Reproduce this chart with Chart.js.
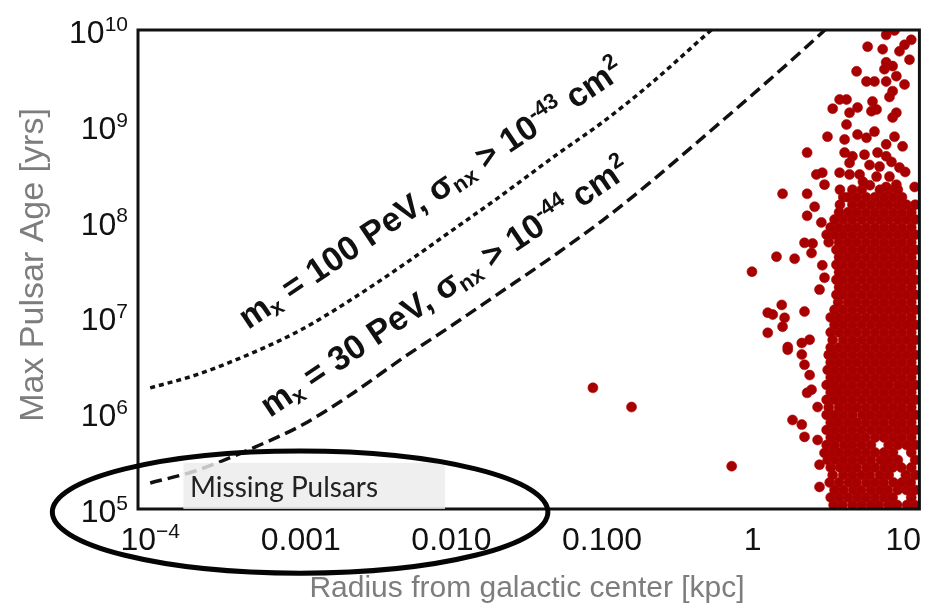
<!DOCTYPE html>
<html>
<head>
<meta charset="utf-8">
<script src="https://cdn.jsdelivr.net/npm/chart.js@4.4.1/dist/chart.umd.min.js"></script>
<style>
    body { margin: 0; background: #ffffff; }
    #wrap { width: 925px; height: 610px; }
</style>
</head>
<body>
<div id="wrap"><canvas id="graph" width="925" height="610"></canvas></div>
<script>
/**********/
// sensitivity curves: radius grid [kpc] and max pulsar age [yrs]
const curveRadius = [1e-4, 2e-4, 5e-4, 1e-3, 2e-3, 5e-3, 0.01, 0.02, 0.05, 0.1, 0.2, 0.5, 1, 2, 5];
const age100PeV = [1.84e6, 2.5e6, 4.4e6, 7.4e6, 1.42e7, 3.7e7, 8.0e7, 1.73e8, 5.0e8, 1.08e9, 2.57e9, 9.2e9, 2.4e10];
const age30PeV = [1.87e5, 2.5e5, 4.45e5, 7.4e5, 1.45e6, 3.97e6, 8.17e6, 1.72e7, 4.62e7, 1.02e8, 2.43e8, 8.28e8, 2.12e9, 5.55e9, 2.08e10];

// axis ticks
const xTicks = [1e-4, 1e-3, 1e-2, 1e-1, 1, 10];
const xTickLabels = [["10", "\u22124"], ["0.001"], ["0.010"], ["0.100"], ["1"], ["10"]];
const yTicks = [1e5, 1e6, 1e7, 1e8, 1e9, 1e10];
const yTickLabels = [["10", "5"], ["10", "6"], ["10", "7"], ["10", "8"], ["10", "9"], ["10", "10"]];

// pulsars far from the main population [kpc, yrs]
const strayPulsars = [
    [0.087, 1.84e6], [0.157, 1.16e6], [0.726, 2.8e5], [0.99, 3.0e7], [1.44, 4.3e7],
    [1.9, 4.1e7], [1.58, 1.95e8], [2.3, 1.95e8], [2.58, 1.43e8], [2.3, 1.15e8], [2.86, 9.8e7],
    [2.21, 6.0e7], [2.5, 5.9e7], [2.46, 4.7e7], [2.9, 3.5e7], [3.0, 2.6e7], [2.78, 1.95e7],
    [1.26, 1.12e7], [1.36, 1.07e7], [1.56, 1.35e7], [1.63, 9.9e6], [1.58, 8.0e6], [1.26, 6.9e6],
    [2.21, 1.15e7], [2.12, 5.4e6], [2.39, 5.85e6], [1.71, 4.9e6], [1.71, 4.6e6], [2.12, 4.1e6],
    [2.21, 3.2e6], [2.39, 2.5e6], [2.46, 1.76e6], [2.3, 1.63e6], [2.7, 1.16e6], [1.84, 8.5e5],
    [2.12, 7.6e5], [2.21, 5.66e5], [2.7, 5.25e5], [3.0, 3.85e5], [2.78, 2.9e5], [2.78, 1.7e5]
];

// old pulsars above ~2e8 yrs [kpc, yrs]
const upperPulsars = [
    [5.8, 6.7e9], [7.7, 8.9e9], [8.75, 9.9e9], [7.3, 6.3e9], [9.44, 6.0e9], [10.2, 7.0e9],
    [11.3, 7.9e9], [11.0, 4.9e9], [7.7, 4.6e9], [8.5, 4.2e9], [7.5, 3.9e9], [9.0, 3.3e9],
    [4.9, 3.7e9], [5.7, 2.9e9], [6.44, 2.9e9], [7.7, 2.9e9], [10.2, 2.7e9], [8.5, 2.3e9],
    [8.1, 2.0e9], [3.78, 1.88e9], [4.2, 1.88e9], [6.25, 1.79e9], [3.4, 1.51e9], [4.4, 1.37e9],
    [4.97, 1.55e9], [6.65, 1.48e9], [6.15, 1.42e9], [8.5, 1.22e9], [9.0, 1.37e9], [4.2, 1.03e9],
    [3.14, 7.7e8], [4.08, 7.2e8], [4.97, 8.1e8], [5.7, 7.5e8], [6.44, 8.7e8], [8.75, 7.7e8],
    [9.9, 6.1e8], [7.7, 6.4e8], [2.3, 5.25e8], [4.08, 5.25e8], [4.6, 4.8e8], [5.53, 5.0e8],
    [6.75, 5.25e8], [7.7, 4.8e8], [4.4, 4.1e8], [5.97, 3.9e8], [6.96, 3.75e8], [8.35, 4.2e8],
    [9.44, 3.66e8], [2.65, 3.1e8], [2.9, 3.24e8], [3.78, 3.24e8], [4.4, 3.1e8], [5.13, 3.1e8],
    [6.65, 2.95e8], [8.1, 2.95e8], [11.9, 2.3e8], [9.0, 2.43e8], [7.7, 2.3e8], [3.0, 2.43e8],
    [5.4, 2.6e8], [6.0, 2.4e8], [10.3, 3.3e8]
];

// main population, one row per age [yrs] with radii [kpc]
const pulsarRows = [
    [1.10e5, [3.45, 3.95, 4.6, 5.3, 6.1, 6.9, 8.0, 9.1, 10.6, 11.9]],
    [1.32e5, [3.3, 3.75, 4.3, 4.95, 5.65, 6.5, 7.5, 8.5, 11.3]],
    [1.58e5, [3.5, 4.0, 4.65, 5.25, 6.1, 7.0, 7.9, 9.2, 10.5, 12.0]],
    [1.89e5, [3.25, 3.75, 4.35, 4.9, 5.7, 6.5, 7.4, 8.6, 9.8, 11.2]],
    [2.26e5, [3.4, 4.0, 4.6, 5.3, 6.0, 7.0, 8.0, 10.4, 12.0]],
    [2.71e5, [3.3, 3.8, 4.3, 4.9, 5.7, 6.5, 7.5, 8.5, 9.7, 11.3]],
    [3.25e5, [3.15, 3.5, 4.0, 4.6, 5.3, 6.1, 7.1, 8.0, 9.2, 12.0]],
    [3.89e5, [3.3, 3.75, 4.3, 4.9, 5.65, 6.5, 7.45, 8.55, 11.3]],
    [4.66e5, [3.1, 3.5, 4.05, 4.6, 5.3, 6.1, 8.0, 9.2, 10.5, 12.0]],
    [5.58e5, [3.3, 3.75, 4.3, 4.9, 5.6, 6.5, 7.45, 8.55, 9.8, 11.3]],
    [6.69e5, [3.1, 3.5, 4.0, 4.6, 5.3, 6.1, 7.0, 8.0, 9.2, 10.5, 12.0]],
    [8.0e5, [3.3, 3.75, 4.3, 4.9, 5.65, 6.5, 7.45, 8.6, 9.8, 11.3]],
    [9.6e5, [3.1, 3.5, 4.0, 4.6, 5.35, 6.1, 7.0, 8.0, 9.2, 10.5, 12.0]],
    [1.15e6, [3.2, 3.75, 4.3, 4.9, 5.65, 6.5, 7.45, 8.55, 9.8, 11.3]],
    [1.38e6, [3.1, 3.5, 4.0, 4.6, 5.3, 6.1, 7.0, 8.0, 9.2, 10.5, 12.0]],
    [1.65e6, [3.3, 3.75, 4.3, 4.9, 5.65, 6.5, 7.45, 8.55, 9.8, 11.3]],
    [1.97e6, [3.1, 3.5, 4.0, 4.6, 5.3, 6.1, 7.0, 8.0, 9.25, 10.5, 12.0]],
    [2.36e6, [3.3, 3.75, 4.3, 4.9, 5.65, 6.5, 7.45, 8.55, 9.8, 11.3]],
    [2.83e6, [3.15, 3.5, 4.0, 4.6, 5.3, 6.1, 7.0, 8.0, 9.2, 10.5, 12.0]],
    [3.39e6, [3.3, 3.75, 4.3, 4.9, 5.65, 6.5, 7.45, 8.55, 9.8, 11.3]],
    [4.06e6, [3.2, 3.5, 4.0, 4.6, 5.3, 6.1, 7.0, 8.0, 9.2, 10.5, 12.0]],
    [4.86e6, [3.3, 3.75, 4.3, 4.9, 5.65, 6.5, 7.45, 8.55, 9.8, 11.3]],
    [5.82e6, [3.4, 4.0, 4.6, 5.3, 6.1, 7.0, 8.0, 9.2, 10.5, 12.0]],
    [6.98e6, [3.3, 3.75, 4.3, 4.9, 5.65, 6.5, 7.45, 8.55, 9.8, 11.3]],
    [8.36e6, [3.5, 4.0, 4.6, 5.3, 6.1, 7.0, 8.0, 9.2, 10.5, 12.0]],
    [1.0e7, [3.3, 3.75, 4.3, 4.9, 5.65, 6.5, 7.45, 8.55, 9.8, 11.3]],
    [1.2e7, [3.5, 4.0, 4.6, 5.3, 6.1, 7.0, 8.0, 9.2, 10.5, 12.0]],
    [1.44e7, [3.7, 4.3, 4.9, 5.65, 6.5, 7.45, 8.55, 9.8, 11.3]],
    [1.72e7, [3.6, 4.0, 4.6, 5.3, 6.1, 7.0, 8.0, 9.2, 10.5, 12.0]],
    [2.06e7, [3.75, 4.3, 4.9, 5.65, 6.5, 7.45, 8.55, 9.8, 11.3]],
    [2.47e7, [3.6, 4.0, 4.6, 5.3, 6.1, 7.0, 8.0, 9.2, 10.5, 12.0]],
    [2.96e7, [3.75, 4.3, 4.9, 5.65, 6.5, 7.45, 8.55, 9.8, 11.3]],
    [3.54e7, [3.6, 4.0, 4.6, 5.3, 6.1, 7.0, 8.0, 9.2, 10.5, 12.0]],
    [4.24e7, [3.75, 4.3, 4.9, 5.65, 6.5, 7.45, 8.55, 9.8, 11.3]],
    [5.08e7, [3.6, 4.0, 4.6, 5.3, 6.1, 7.0, 8.0, 9.2, 10.5, 12.0]],
    [6.09e7, [3.2, 3.75, 4.3, 4.9, 5.65, 6.5, 7.45, 8.55, 9.8, 11.3]],
    [7.3e7, [3.1, 3.5, 4.0, 4.6, 5.3, 6.1, 7.0, 8.0, 9.2, 10.5, 12.0]],
    [8.7e7, [3.3, 3.75, 4.3, 4.9, 5.65, 6.5, 7.45, 8.55, 9.8, 11.3]],
    [1.05e8, [3.5, 4.0, 4.6, 5.3, 6.1, 7.0, 8.0, 9.2, 10.5, 12.0]],
    [1.25e8, [3.75, 4.3, 4.9, 5.65, 6.5, 7.45, 8.55, 9.8, 11.3]],
    [1.5e8, [3.8, 4.6, 5.3, 6.1, 7.0, 8.0, 9.2, 10.5, 12.0]],
    [1.8e8, [4.0, 4.3, 4.9, 5.65, 6.5, 7.45, 8.55, 9.8]],
    [2.15e8, [3.8, 4.6, 5.3, 7.0, 8.0, 9.2]]
];

const FONT = '"Liberation Sans", Arial, sans-serif';

/**********/
function buildPulsars()
{
    let points = [];

    for(let i=0; i<pulsarRows.length; i++)
    {
        let age = pulsarRows[i][0];
        let radii = pulsarRows[i][1];
        for(let j=0; j<radii.length; j++) { points.push({ x: radii[j], y: age }); }
    }

    let extra = strayPulsars.concat(upperPulsars);
    for(let i=0; i<extra.length; i++) { points.push({ x: extra[i][0], y: extra[i][1] }); }

    return points;
}

/**********/
function buildCurve(ages)
{
    let points = [];
    for(let i=0; i<ages.length; i++) { points.push({ x: curveRadius[i], y: ages[i] }); }
    return points;
}

/**********/
// text with sub/superscripts, parts are [text, shift] with shift 1 = sup, -1 = sub
function richWidth(c, parts, size, weight)
{
    let w = 0;
    for(let i=0; i<parts.length; i++)
    {
        let fs = parts[i][1] === 0 ? size : Math.round(size * 0.66);
        c.font = weight + " " + fs + "px " + FONT;
        w += c.measureText(parts[i][0]).width;
    }
    return w;
}

function drawRich(c, parts, x, y, size, weight)
{
    let cx = x;
    for(let i=0; i<parts.length; i++)
    {
        let shift = parts[i][1];
        let fs = shift === 0 ? size : Math.round(size * 0.66);
        c.font = weight + " " + fs + "px " + FONT;
        let dy = shift === 1 ? -size * 0.38 : (shift === -1 ? size * 0.14 : 0);
        c.fillText(parts[i][0], cx, y + dy);
        cx += c.measureText(parts[i][0]).width;
    }
}

/**********/
const decorPlugin =
{
    id: "decor",

    afterDatasetsDraw(chart)
    {
        const c = chart.ctx;
        const a = chart.chartArea;
        const xs = chart.scales.x;
        const ys = chart.scales.y;

        c.save();

        //frame
        c.strokeStyle = "#111";
        c.lineWidth = 3;
        c.strokeRect(a.left, a.top, a.right - a.left, a.bottom - a.top);

        //curve labels
        c.fillStyle = "#111";
        c.textBaseline = "alphabetic";
        let labels = [
            { x: 4.47e-4, y: 7.4e6, parts: [["m",0],["x",-1],[" = 100 PeV, \u03C3",0],["nx",-1],[" > 10",0],["-43",1],[" cm",0],["2",1]] },
            { x: 6.25e-4, y: 8.9e5, parts: [["m",0],["x",-1],[" = 30 PeV, \u03C3",0],["nx",-1],[" > 10",0],["-44",1],[" cm",0],["2",1]] }
        ];
        for(let i=0; i<labels.length; i++)
        {
            c.save();
            c.translate(xs.getPixelForValue(labels[i].x), ys.getPixelForValue(labels[i].y));
            c.rotate(-34 * Math.PI / 180);
            drawRich(c, labels[i].parts, 0, 0, 34, "bold");
            c.restore();
        }

        //missing pulsars box
        let bx0 = xs.getPixelForValue(1.66e-4);
        let bx1 = xs.getPixelForValue(9.06e-3);
        let by0 = ys.getPixelForValue(3.03e5);
        c.fillStyle = "rgba(236,236,236,0.82)";
        c.fillRect(bx0, by0, bx1 - bx0, a.bottom - by0);

        c.fillStyle = "#222";
        c.font = "28px Lato, \"Open Sans\", sans-serif";
        c.fillText("Missing Pulsars", xs.getPixelForValue(1.84e-4), ys.getPixelForValue(1.33e5));

        c.restore();
    },

    afterDraw(chart)
    {
        const c = chart.ctx;
        const a = chart.chartArea;
        const xs = chart.scales.x;
        const ys = chart.scales.y;

        c.save();
        c.fillStyle = "#111";
        c.textBaseline = "alphabetic";

        //y tick labels, right aligned
        for(let i=0; i<yTicks.length; i++)
        {
            let py = ys.getPixelForValue(yTicks[i]);
            let parts = [[yTickLabels[i][0], 0], [yTickLabels[i][1], 1]];
            let w = richWidth(c, parts, 32, "normal");
            drawRich(c, parts, a.left - 10 - w, py + 13, 32, "normal");
        }

        //x tick labels, centred
        for(let i=0; i<xTicks.length; i++)
        {
            let px = xs.getPixelForValue(xTicks[i]);
            let parts = [[xTickLabels[i][0], 0]];
            if(xTickLabels[i].length > 1) { parts.push([xTickLabels[i][1], 1]); }
            let w = richWidth(c, parts, 32, "normal");
            drawRich(c, parts, px - w / 2, a.bottom + 41, 32, "normal");
        }

        //axis titles
        c.fillStyle = "#7d7d7d";
        c.font = "30px " + FONT;
        c.textAlign = "center";
        c.fillText("Radius from galactic center [kpc]", 527, 597);

        c.font = "34px " + FONT;
        c.save();
        c.translate(43, 265);
        c.rotate(-Math.PI / 2);
        c.fillText("Max Pulsar Age [yrs]", 0, 0);
        c.restore();

        //missing pulsars ellipse
        let ex0 = xs.getPixelForValue(2.24e-5);
        let ex1 = xs.getPixelForValue(0.0437);
        let ecy = ys.getPixelForValue(9.3e4);
        let etop = ys.getPixelForValue(4.04e5);
        c.strokeStyle = "#050505";
        c.lineWidth = 5;
        c.beginPath();
        c.ellipse((ex0 + ex1) / 2, ecy, (ex1 - ex0) / 2, ecy - etop, 0, 0, 2 * Math.PI);
        c.stroke();

        c.restore();
    }
};

/**********/
function displayGraph()
{
    const ctx = document.getElementById("graph");

    window.graph = new Chart(ctx,
    {
        type: "scatter",

        data:
        {
            datasets:
            [
                {
                    label: "m = 100 PeV",
                    data: buildCurve(age100PeV),
                    showLine: true,
                    pointRadius: 0,
                    borderColor: "#111",
                    borderWidth: 3.5,
                    borderDash: [5, 4],
                    cubicInterpolationMode: "monotone"
                },
                {
                    label: "m = 30 PeV",
                    data: buildCurve(age30PeV),
                    showLine: true,
                    pointRadius: 0,
                    borderColor: "#111",
                    borderWidth: 3.5,
                    borderDash: [12, 6],
                    cubicInterpolationMode: "monotone"
                },
                {
                    label: "Pulsars",
                    data: buildPulsars(),
                    pointRadius: 5,
                    pointHoverRadius: 5,
                    pointBackgroundColor: "#a60000",
                    pointBorderColor: "#b40808",
                    pointBorderWidth: 0.6
                }
            ]
        },

        options:
        {
            responsive: false,
            animation: false,
            events: [],
            layout: { padding: { left: 0, top: 30, right: 5, bottom: 0 } },
            plugins: { legend: { display: false }, tooltip: { enabled: false } },
            scales:
            {
                x:
                {
                    type: "logarithmic",
                    min: 8.3e-5,
                    max: 12.8,
                    grid: { display: false },
                    border: { display: false },
                    ticks: { display: false },
                    afterFit: function(s) { s.height = 101; }
                },
                y:
                {
                    type: "logarithmic",
                    min: 1e5,
                    max: 1e10,
                    grid: { display: false },
                    border: { display: false },
                    ticks: { display: false },
                    afterFit: function(s) { s.width = 138; }
                }
            }
        },

        plugins: [decorPlugin]
    });
}

displayGraph();
</script>
</body>
</html>
